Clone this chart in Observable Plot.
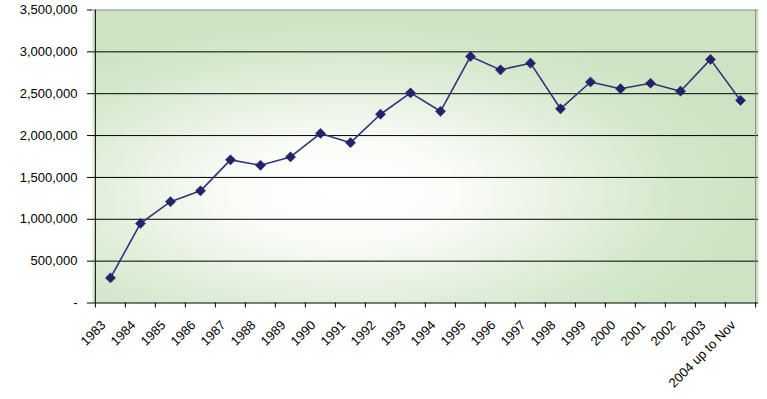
<!DOCTYPE html>
<html>
<head>
<meta charset="utf-8">
<script src="https://cdn.jsdelivr.net/npm/d3@7"></script>
<script src="https://cdn.jsdelivr.net/npm/@observablehq/plot@0.6"></script>
<style>
  html, body { margin: 0; padding: 0; background: #fff; }
  #chart svg { display: block; }
</style>
</head>
<body>
<div id="chart"></div>
<script>
const years = ["1983","1984","1985","1986","1987","1988","1989","1990","1991","1992","1993","1994","1995","1996","1997","1998","1999","2000","2001","2002","2003","2004 up to Nov"];
const values = [300000, 950000, 1210000, 1340000, 1710000, 1645000, 1745000, 2025000, 1915000, 2255000, 2510000, 2290000, 2945000, 2785000, 2865000, 2320000, 2640000, 2560000, 2625000, 2530000, 2910000, 2420000];
const yTicks = [0, 500000, 1000000, 1500000, 2000000, 2500000, 3000000, 3500000];

const data = years.map((y, i) => ({year: y, value: values[i]}));

const W = 767, H = 399, mL = 92, mR = 9, mT = 9.5, mB = 96.5;
const bw = (W - mL - mR) / years.length;
const fmt = d => d === 0 ? "-" : d3.format(",")(d);

const plot = Plot.plot({
  width: W,
  height: H,
  marginLeft: mL,
  marginRight: mR,
  marginTop: mT,
  marginBottom: mB,
  style: {fontFamily: "'Liberation Sans', Arial, sans-serif", fontSize: "13px", color: "#000", background: "transparent"},
  x: {type: "band", domain: years, padding: 0, align: 0.5},
  y: {domain: [0, 3500000]},
  marks: [
    Plot.frame({fill: "url(#bgGrad)", stroke: "none"}),
    Plot.gridY(yTicks.filter(d => d > 0 && d < 3500000), {stroke: "#000", strokeOpacity: 1, strokeWidth: 1}),
    Plot.ruleY([3500000], {stroke: "#888", strokeWidth: 1}),
    Plot.ruleX([years[years.length - 1]], {stroke: "#888", strokeWidth: 1, dx: bw / 2}),
    Plot.axisY({ticks: yTicks, tickFormat: fmt, tickSize: 5, tickPadding: 10, stroke: "#000", fontSize: 13, label: null}),
    Plot.ruleY([0], {stroke: "#000", strokeWidth: 1}),
    Plot.ruleX([years[0]], {stroke: "#000", strokeWidth: 1, dx: -bw / 2}),
    Plot.axisX({text: null, tickSize: 5, dx: -bw / 2, stroke: "#000", label: null}),
    Plot.axisX([years[years.length - 1]], {text: null, tickSize: 5, dx: bw / 2, stroke: "#000", label: null}),
    Plot.axisX({tickSize: 0, tickRotate: -45, tickPadding: 12, dx: -7, dy: 8, fontSize: 13, label: null}),
    Plot.line(data, {x: "year", y: "value", stroke: "#33337a", strokeWidth: 1.6}),
    Plot.dot(data, {x: "year", y: "value", symbol: "diamond2", r: 4.6, fill: "#23236b", stroke: "#23236b", strokeWidth: 0.5})
  ]
});

const ns = "http://www.w3.org/2000/svg";
const defs = document.createElementNS(ns, "defs");
defs.innerHTML = `<radialGradient id="bgGrad" cx="0.38" cy="0.62" r="0.62" fx="0.38" fy="0.62">
  <stop offset="0" stop-color="#ffffff"/>
  <stop offset="0.25" stop-color="#fbfdf9"/>
  <stop offset="0.55" stop-color="#e6f1e0"/>
  <stop offset="0.8" stop-color="#d3e8cb"/>
  <stop offset="1" stop-color="#cce4c3"/>
</radialGradient>`;
plot.insertBefore(defs, plot.firstChild);
document.getElementById("chart").appendChild(plot);
</script>
</body>
</html>
